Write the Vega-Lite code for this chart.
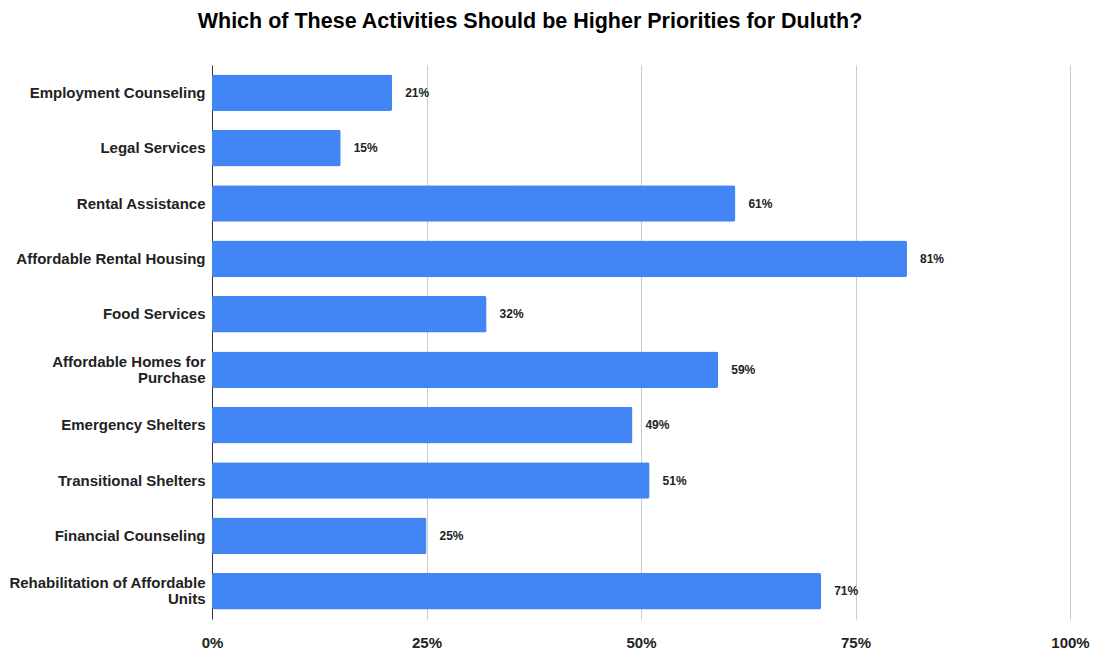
{
  "$schema": "https://vega.github.io/schema/vega-lite/v6.json",
  "autosize": "none",
  "width": 858,
  "height": 554,
  "padding": {"left": 212, "top": 65, "right": 24, "bottom": 32},
  "background": "white",
  "title": {
    "text": "Which of These Activities Should be Higher Priorities for Duluth?",
    "anchor": "middle",
    "dx": -111,
    "offset": 33,
    "font": "Liberation Sans",
    "fontSize": 21.5,
    "fontWeight": "bold",
    "color": "#000000"
  },
  "data": {
    "values": [
      {"activity": "Employment Counseling", "share": 0.21},
      {"activity": "Legal Services", "share": 0.15},
      {"activity": "Rental Assistance", "share": 0.61},
      {"activity": "Affordable Rental Housing", "share": 0.81},
      {"activity": "Food Services", "share": 0.32},
      {"activity": "Affordable Homes for Purchase", "share": 0.59},
      {"activity": "Emergency Shelters", "share": 0.49},
      {"activity": "Transitional Shelters", "share": 0.51},
      {"activity": "Financial Counseling", "share": 0.25},
      {"activity": "Rehabilitation of Affordable Units", "share": 0.71}
    ]
  },
  "encoding": {
    "y": {
      "field": "activity",
      "type": "nominal",
      "sort": null,
      "scale": {"paddingInner": 0.34, "paddingOuter": 0.17},
      "axis": {
        "title": null,
        "ticks": false,
        "domain": true,
        "domainColor": "#333333",
        "domainWidth": 1,
        "labelFont": "Liberation Sans",
        "labelFontSize": 15,
        "labelFontWeight": "bold",
        "labelColor": "#222222",
        "labelPadding": 7,
        "labelLimit": 300,
        "labelLineHeight": 16,
        "labelOffset": {"condition": {"test": "datum.value == 'Affordable Homes for Purchase' || datum.value == 'Rehabilitation of Affordable Units'", "value": -8}, "value": 0},
        "labelExpr": "datum.label == 'Affordable Homes for Purchase' ? ['Affordable Homes for', 'Purchase'] : datum.label == 'Rehabilitation of Affordable Units' ? ['Rehabilitation of Affordable', 'Units'] : datum.label"
      }
    },
    "x": {
      "field": "share",
      "type": "quantitative",
      "scale": {"domain": [0, 1]},
      "axis": {
        "title": null,
        "format": ".0%",
        "values": [0, 0.25, 0.5, 0.75, 1],
        "ticks": false,
        "domain": false,
        "grid": true,
        "gridColor": "#cccccc",
        "labelFlush": false,
        "labelFont": "Liberation Sans",
        "labelFontSize": 15,
        "labelFontWeight": "bold",
        "labelColor": "#222222",
        "labelPadding": 16
      }
    }
  },
  "layer": [
    {
      "mark": {"type": "bar", "color": "#4285F4", "cornerRadius": 2}
    },
    {
      "mark": {
        "type": "text",
        "align": "left",
        "dx": 13,
        "font": "Liberation Sans",
        "fontSize": 12,
        "fontWeight": "bold",
        "color": "#222222"
      },
      "encoding": {
        "text": {"field": "share", "type": "quantitative", "format": ".0%"}
      }
    }
  ],
  "config": {"view": {"stroke": null}}
}
